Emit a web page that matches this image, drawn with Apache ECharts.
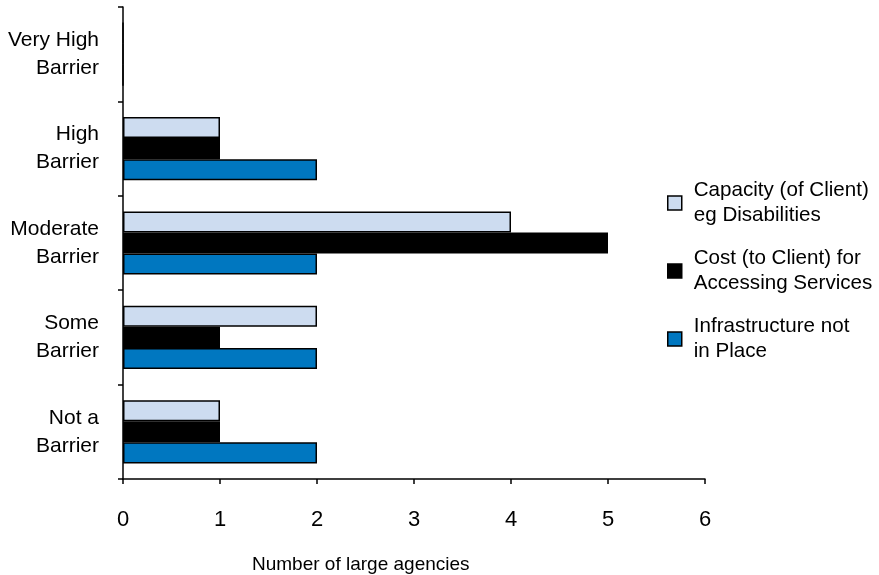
<!DOCTYPE html>
<html>
<head>
<meta charset="utf-8">
<title>Barriers for large agencies</title>
<script src="https://cdn.jsdelivr.net/npm/echarts@6/dist/echarts.min.js"></script>
<style>
  html, body { margin: 0; padding: 0; background: #fff; }
  #chart { width: 879px; height: 575px; }
</style>
</head>
<body>
<div id="chart"></div>
<script>
// Barrier levels, listed top to bottom
var categories = ['Very High Barrier', 'High Barrier', 'Moderate Barrier', 'Some Barrier', 'Not a Barrier'];

// Number of large agencies per barrier level
var capacityValues = [0, 1, 4, 2, 1];
var costValues = [0, 1, 5, 1, 1];
var infrastructureValues = [0, 2, 2, 2, 2];

var seriesNames = [
  'Capacity (of Client)\neg Disabilities',
  'Cost (to Client) for\nAccessing Services',
  'Infrastructure not\nin Place'
];
var seriesColors = ['#cddcf0', '#000000', '#0077c0'];

var xTicks = [0, 1, 2, 3, 4, 5, 6];
var xAxisTitle = 'Number of large agencies';

var FONT = "'Liberation Sans', Arial, sans-serif";

var chart = echarts.init(document.getElementById('chart'), null, { renderer: 'canvas' });

function barSeries(name, values, color) {
  return {
    name: name,
    type: 'bar',
    data: values,
    barGap: '0%',
    barCategoryGap: '33%',
    itemStyle: { color: color, borderColor: '#000', borderWidth: 1.5 },
    emphasis: { disabled: true }
  };
}

var option = {
  animation: false,
  backgroundColor: '#ffffff',
  grid: { left: 123, right: 174, top: 7, bottom: 96, containLabel: false },
  xAxis: {
    type: 'value',
    min: xTicks[0],
    max: xTicks[xTicks.length - 1],
    interval: 1,
    splitLine: { show: false },
    axisLine: { show: true, lineStyle: { color: '#000', width: 1.5 } },
    axisTick: { show: true, length: 5, lineStyle: { color: '#000', width: 1.5 } },
    axisLabel: { margin: 30, fontSize: 22, color: '#000', fontFamily: FONT }
  },
  yAxis: {
    type: 'category',
    data: categories,
    inverse: true,
    axisLine: { show: true, lineStyle: { color: '#000', width: 1.5 } },
    axisTick: { show: true, length: 5, lineStyle: { color: '#000', width: 1.5 } },
    axisLabel: {
      margin: 24,
      fontSize: 21,
      lineHeight: 28,
      color: '#000',
      fontFamily: FONT,
      align: 'right',
      formatter: function (v) { return v.replace(/ (\S+)$/, '\n$1'); }
    }
  },
  legend: {
    orient: 'vertical',
    left: 667,
    top: 178,
    padding: 0,
    itemGap: 18,
    itemWidth: 14,
    itemHeight: 14,
    icon: 'rect',
    selectedMode: false,
    data: seriesNames,
    itemStyle: { borderColor: '#000', borderWidth: 1.5 },
    textStyle: { fontSize: 20.6, lineHeight: 25, color: '#000', fontFamily: FONT, padding: [0, 0, 0, 7] }
  },
  graphic: [{
    type: 'text',
    left: 252,
    top: 555,
    style: { text: xAxisTitle, fontSize: 19, fill: '#000', fontFamily: FONT }
  }],
  series: [
    barSeries(seriesNames[0], capacityValues, seriesColors[0]),
    barSeries(seriesNames[1], costValues, seriesColors[1]),
    barSeries(seriesNames[2], infrastructureValues, seriesColors[2])
  ]
};

chart.setOption(option);
</script>
</body>
</html>
